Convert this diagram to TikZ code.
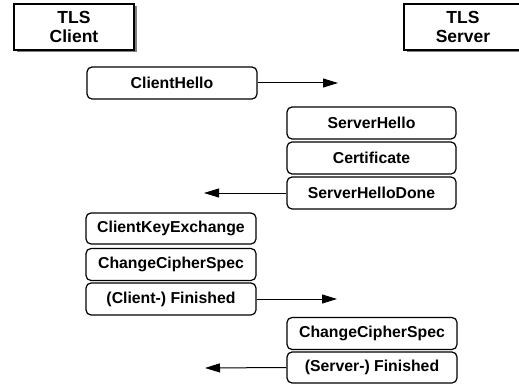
\documentclass[tikz,border=0pt]{standalone}
\usepackage{fontspec}
\setmainfont{Liberation Sans}
\usetikzlibrary{arrows.meta,shadows}
\begin{document}
\begin{tikzpicture}[x=1pt,y=-1pt,
  msg/.style={draw, line width=1.2pt, rounded corners=5pt, fill=white,
    minimum width=170pt, minimum height=32pt, inner sep=0pt,
    font=\fontsize{15.8}{17}\selectfont\bfseries},
  party/.style={draw, line width=1.2pt, fill=white, inner sep=0pt,
    drop shadow={shadow xshift=2.5pt, shadow yshift=-2.5pt, opacity=1, fill=black!50},
    align=center, font=\fontsize{17.5}{19}\selectfont\bfseries},
  flow/.style={line width=1pt, -{Triangle[length=15pt,width=9pt]}}]
\useasboundingbox (0,0) rectangle (519,385);
\node[party, minimum width=120pt, minimum height=46pt] (client) at (74,27) {TLS\\Client};
\node[party, minimum width=118pt, minimum height=46pt] (server) at (463,27) {TLS\\Server};

\node[msg] (ch) at (172,83) {ClientHello};
\node[msg, minimum width=169pt] (sh) at (371.5,123) {ServerHello};
\node[msg, minimum width=169pt] (cert) at (371.5,158) {Certificate};
\node[msg, minimum width=169pt] (shd) at (371.5,193) {ServerHelloDone};
\node[msg, minimum height=31pt] (cke) at (171,228.5) {ClientKeyExchange};
\node[msg, minimum height=32pt] (ccs1) at (171,264.5) {ChangeCipherSpec};
\node[msg] (cfin) at (171,299) {(Client-) Finished};
\node[msg] (ccs2) at (372,333.5) {ChangeCipherSpec};
\node[msg, minimum height=31pt] (sfin) at (372,367.5) {(Server-) Finished};

\coordinate (t1) at (338,83);
\coordinate (t2) at (204,193);
\coordinate (t3) at (337,299);
\coordinate (t4) at (205,368);
\draw[flow] (ch.east) -- (t1);
\draw[flow] (shd.west) -- (t2);
\draw[flow] (cfin.east) -- (t3);
\draw[flow] (sfin.west) -- (t4);
\end{tikzpicture}
\end{document}
